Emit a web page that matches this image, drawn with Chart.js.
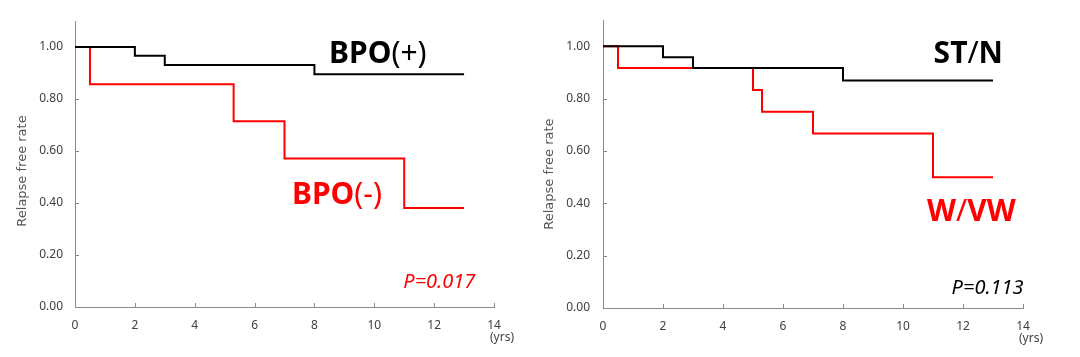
<!DOCTYPE html>
<html><head><meta charset="utf-8">
<script src="https://cdn.jsdelivr.net/npm/chart.js@4.4.1/dist/chart.umd.min.js"></script>
<style>
html,body{margin:0;padding:0;background:#fff;}
#wrap{position:relative;width:1080px;height:357px;overflow:hidden;}
canvas{position:absolute;top:0;}
</style></head><body>
<div id="wrap">
<canvas id="c1" width="540" height="357" style="left:0"></canvas>
<canvas id="c2" width="540" height="357" style="left:540px"></canvas>
</div>
<script>
// ---- data ----
const yTicks = [0, 0.2, 0.4, 0.6, 0.8, 1.0];
const xTicks = [0, 2, 4, 6, 8, 10, 12, 14];
const yAxisTitle = 'Relapse free rate';
const xUnit = '(yrs)';

const bpoPosTimes = [0, 2, 3, 8, 13];
const bpoPosRates = [1.0, 0.966, 0.931, 0.895, 0.895];
const bpoNegTimes = [0, 0.5, 5.3, 7, 11, 13];
const bpoNegRates = [1.0, 0.857, 0.714, 0.571, 0.381, 0.381];

const stnTimes = [0, 2, 3, 8, 13];
const stnRates = [1.0, 0.958, 0.917, 0.870, 0.870];
const wvwTimes = [0, 0.5, 5, 5.3, 7, 11, 13];
const wvwRates = [1.0, 0.917, 0.833, 0.750, 0.667, 0.500, 0.500];

const AXIS = '#8a8a8a';
const TICKC = '#404040';
const FONT = "'Noto Sans', 'Liberation Sans', sans-serif";

function pts(t, r) { return t.map((x, i) => ({ x: x, y: r[i] })); }

const kmDecor = {
  id: 'kmDecor',
  beforeDatasetsDraw(chart) {
    const ctx = chart.ctx, xs = chart.scales.x, ys = chart.scales.y;
    ctx.save();
    ctx.strokeStyle = AXIS; ctx.lineWidth = 1;
    xTicks.forEach(v => {
      const px = Math.round(xs.getPixelForValue(v)) + 0.5;
      ctx.beginPath(); ctx.moveTo(px, ys.bottom); ctx.lineTo(px, ys.bottom - 4); ctx.stroke();
    });
    yTicks.forEach(v => {
      const py = Math.round(ys.getPixelForValue(v)) + 0.5;
      ctx.beginPath(); ctx.moveTo(xs.left, py); ctx.lineTo(xs.left + 4, py); ctx.stroke();
    });
    ctx.restore();
  },
  afterDatasetsDraw(chart, args, opts) {
    const ctx = chart.ctx, xs = chart.scales.x, ys = chart.scales.y;
    ctx.save();
    // axis title (rotated)
    ctx.save();
    ctx.translate(opts.titleX, (ys.top + ys.bottom) / 2 + opts.titleDy);
    ctx.rotate(-Math.PI / 2);
    ctx.fillStyle = '#555555';
    ctx.font = "13px 'DejaVu Sans', sans-serif";
    ctx.textAlign = 'center'; ctx.textBaseline = 'middle';
    ctx.fillText(yAxisTitle, 0, 0);
    ctx.restore();
    // unit under last x tick
    ctx.fillStyle = TICKC;
    ctx.font = '12px ' + FONT;
    ctx.textAlign = 'center'; ctx.textBaseline = 'middle';
    ctx.fillText(xUnit, xs.getPixelForValue(14) + 8, ys.bottom + 31);
    // group labels
    (opts.labels || []).forEach(l => {
      let x = xs.getPixelForValue(l.x);
      const y = ys.getPixelForValue(l.y);
      ctx.fillStyle = l.color;
      ctx.textAlign = 'left'; ctx.textBaseline = 'alphabetic';
      l.parts.forEach(p => {
        ctx.font = (l.style || 'normal') + ' ' + p[1] + ' ' + l.size + 'px ' + FONT;
        ctx.fillText(p[0], x, y);
        x += ctx.measureText(p[0]).width;
      });
    });
    ctx.restore();
  }
};

function makeChart(id, dsets, lay, labels) {
  return new Chart(document.getElementById(id), {
    type: 'line',
    data: {
      datasets: dsets.map(d => ({
        data: pts(d.t, d.r), borderColor: d.c, borderWidth: 2,
        pointRadius: 0, stepped: 'before', fill: false, tension: 0
      }))
    },
    options: {
      responsive: false, animation: false,
      layout: { padding: { left: 0, right: lay.right, top: lay.top, bottom: 0 } },
      plugins: {
        legend: { display: false }, tooltip: { enabled: false },
        kmDecor: { labels: labels, titleX: lay.titleX, titleDy: lay.titleDy }
      },
      scales: {
        x: {
          type: 'linear', min: 0, max: 14,
          afterBuildTicks: s => { s.ticks = xTicks.map(v => ({ value: v })); },
          afterFit: s => { s.height = lay.xh; },
          grid: { display: false, drawTicks: false },
          border: { display: true, color: AXIS, width: 1 },
          ticks: { padding: 11, color: TICKC, font: { size: 12, family: FONT }, maxRotation: 0, callback: v => String(v) }
        },
        y: {
          type: 'linear', min: 0, max: 1.1,
          afterBuildTicks: s => { s.ticks = yTicks.map(v => ({ value: v })); },
          afterFit: s => { s.width = lay.yw; },
          grid: { display: false, drawTicks: false },
          border: { display: true, color: AXIS, width: 1 },
          ticks: { padding: lay.ypad, color: TICKC, font: { size: 12, family: FONT }, callback: v => Number(v).toFixed(2) },
          title: { display: false, text: yAxisTitle }
        }
      }
    },
    plugins: [kmDecor]
  });
}

makeChart('c1',
  [{ t: bpoPosTimes, r: bpoPosRates, c: '#000000' }, { t: bpoNegTimes, r: bpoNegRates, c: '#ff0000' }],
  { right: 46, top: 21, xh: 50, yw: 75, ypad: 12, titleX: 23, titleDy: 7 },
  [
    { x: 8.49, y: 0.939, size: 30, color: '#000000', parts: [['BPO', 'bold'], ['(+)', 'normal']] },
    { x: 7.25, y: 0.395, size: 30, color: '#ff0000', parts: [['BPO', 'bold'], ['(-)', 'normal']] },
    { x: 10.97, y: 0.075, size: 20, style: 'italic', color: '#ff0000', parts: [['P=0.017', 'normal']] }
  ]);

makeChart('c2',
  [{ t: stnTimes, r: stnRates, c: '#000000' }, { t: wvwTimes, r: wvwRates, c: '#ff0000' }],
  { right: 57, top: 14, xh: 49, yw: 63, ypad: 13, titleX: 10, titleDy: 10 },
  [
    { x: 11.02, y: 0.936, size: 30, color: '#000000', parts: [['ST', 'bold'], ['/', 'normal'], ['N', 'bold']] },
    { x: 10.8, y: 0.332, size: 30, color: '#ff0000', parts: [['W', 'bold'], ['/', 'normal'], ['VW', 'bold']] },
    { x: 11.62, y: 0.055, size: 20, style: 'italic', color: '#000000', parts: [['P=0.113', 'normal']] }
  ]);
</script>
</body></html>
